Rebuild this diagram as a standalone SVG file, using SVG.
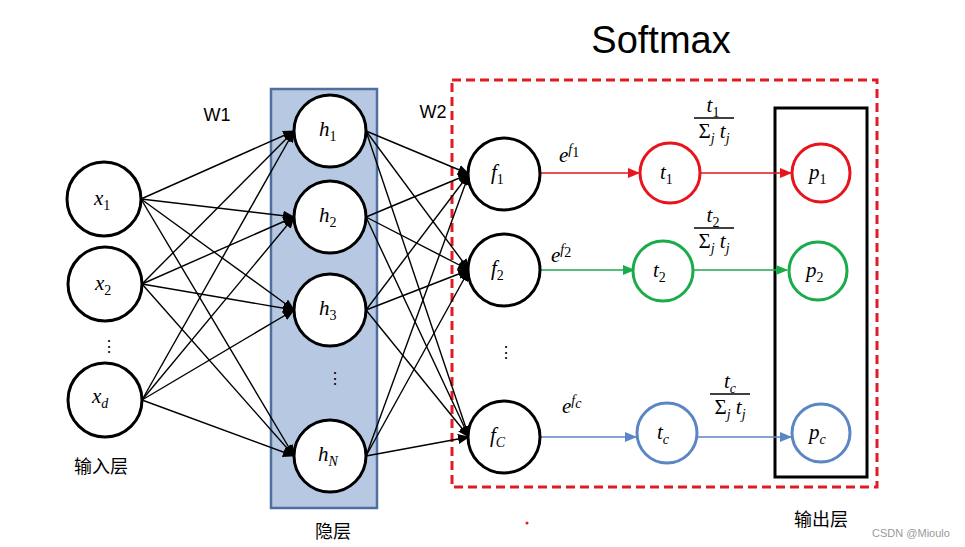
<svg xmlns="http://www.w3.org/2000/svg" width="965" height="547" viewBox="0 0 965 547">
<defs>
<marker id="ak" markerUnits="userSpaceOnUse" markerWidth="12" markerHeight="10" refX="11" refY="5" orient="auto"><path d="M0,0 L12,5 L0,10 Z" fill="#000"/></marker>
<marker id="ar" markerUnits="userSpaceOnUse" markerWidth="12" markerHeight="10" refX="11" refY="5" orient="auto"><path d="M0,0 L12,5 L0,10 Z" fill="#e8141c"/></marker>
<marker id="ag" markerUnits="userSpaceOnUse" markerWidth="12" markerHeight="10" refX="11" refY="5" orient="auto"><path d="M0,0 L12,5 L0,10 Z" fill="#1aab4a"/></marker>
<marker id="ab" markerUnits="userSpaceOnUse" markerWidth="12" markerHeight="10" refX="11" refY="5" orient="auto"><path d="M0,0 L12,5 L0,10 Z" fill="#5b86c4"/></marker>
</defs>
<style>
.n{fill:#fff;stroke:#000;stroke-width:3}
.nr{fill:#fff;stroke:#e8141c;stroke-width:3}
.ng{fill:#fff;stroke:#1aab4a;stroke-width:3}
.nb{fill:#fff;stroke:#5b86c4;stroke-width:3}
.m{font-family:"Liberation Serif","DejaVu Serif",serif;font-style:italic;font-size:21px;fill:#000}
.s{font-size:14px;font-style:normal}
.si{font-size:14px}
.w{font-family:"Liberation Sans",Arial,sans-serif;font-size:18px;fill:#000}
.cn{font-family:"Liberation Sans","Noto Sans CJK SC",sans-serif;font-size:18px;fill:#000}
.k{stroke:#000;stroke-width:1.4;fill:none;marker-end:url(#ak)}
.dots{font-family:"Liberation Sans",sans-serif;font-size:16px;fill:#000}
</style>
<rect width="965" height="547" fill="#fff"/>
<text x="661" y="53" text-anchor="middle" font-family="Liberation Sans,Arial,sans-serif" font-size="38" fill="#000">Softmax</text>
<g id="hidden-box"><rect x="271" y="89" width="106" height="419" fill="#b7c9e2" stroke="#4f6fa0" stroke-width="2.5"/></g>
<g id="softmax-box"><rect x="452" y="80" width="425" height="407" fill="none" stroke="#e01b22" stroke-width="3" stroke-dasharray="9,5"/></g>
<g id="output-box"><rect x="775" y="108" width="92" height="369" fill="none" stroke="#000" stroke-width="3"/></g>
<g id="connectors">
<line class="k" x1="141" y1="199" x2="294" y2="131"/>
<line class="k" x1="141" y1="199" x2="294" y2="217"/>
<line class="k" x1="141" y1="199" x2="294" y2="310"/>
<line class="k" x1="141" y1="199" x2="294" y2="456"/>
<line class="k" x1="142" y1="284" x2="294" y2="131"/>
<line class="k" x1="142" y1="284" x2="294" y2="217"/>
<line class="k" x1="142" y1="284" x2="294" y2="310"/>
<line class="k" x1="142" y1="284" x2="294" y2="456"/>
<line class="k" x1="142" y1="400" x2="294" y2="131"/>
<line class="k" x1="142" y1="400" x2="294" y2="217"/>
<line class="k" x1="142" y1="400" x2="294" y2="310"/>
<line class="k" x1="142" y1="400" x2="294" y2="456"/>
<line class="k" x1="366" y1="131" x2="469" y2="174"/>
<line class="k" x1="366" y1="131" x2="469" y2="270"/>
<line class="k" x1="366" y1="131" x2="469" y2="437"/>
<line class="k" x1="366" y1="217" x2="469" y2="174"/>
<line class="k" x1="366" y1="217" x2="469" y2="270"/>
<line class="k" x1="366" y1="217" x2="469" y2="437"/>
<line class="k" x1="366" y1="310" x2="469" y2="174"/>
<line class="k" x1="366" y1="310" x2="469" y2="270"/>
<line class="k" x1="366" y1="310" x2="469" y2="437"/>
<line class="k" x1="366" y1="456" x2="469" y2="174"/>
<line class="k" x1="366" y1="456" x2="469" y2="270"/>
<line class="k" x1="366" y1="456" x2="469" y2="437"/>
<line x1="540" y1="173" x2="639" y2="173" stroke="#e8141c" stroke-width="1.5" marker-end="url(#ar)"/>
<line x1="698" y1="173" x2="791" y2="173" stroke="#e8141c" stroke-width="1.5" marker-end="url(#ar)"/>
<line x1="540" y1="270" x2="634" y2="270" stroke="#1aab4a" stroke-width="1.5" marker-end="url(#ag)"/>
<line x1="690" y1="270" x2="787" y2="270" stroke="#1aab4a" stroke-width="1.5" marker-end="url(#ag)"/>
<line x1="540" y1="437" x2="636" y2="437" stroke="#5b86c4" stroke-width="1.5" marker-end="url(#ab)"/>
<line x1="697" y1="437" x2="791" y2="437" stroke="#5b86c4" stroke-width="1.5" marker-end="url(#ab)"/>
</g>
<g id="x1"><circle class="n" cx="104" cy="199" r="37"/><text class="m" x="94" y="205">x<tspan class="s" dy="5">1</tspan></text></g>
<g id="x2"><circle class="n" cx="105" cy="284" r="37"/><text class="m" x="95" y="290">x<tspan class="s" dy="5">2</tspan></text></g>
<g id="xd"><circle class="n" cx="105" cy="400" r="37"/><text class="m" x="92" y="403">x<tspan class="si" dy="5">d</tspan></text></g>
<text class="dots" x="109" y="352" text-anchor="middle">⋮</text>
<text class="cn" x="101" y="473" text-anchor="middle">输入层</text>
<text class="w" x="217" y="121" text-anchor="middle">W1</text>
<text class="w" x="433" y="118" text-anchor="middle">W2</text>
<g id="h1"><circle class="n" cx="330" cy="131" r="36"/><text class="m" x="319" y="136">h<tspan class="s" dy="5">1</tspan></text></g>
<g id="h2"><circle class="n" cx="330" cy="217" r="36"/><text class="m" x="319" y="222">h<tspan class="s" dy="5">2</tspan></text></g>
<g id="h3"><circle class="n" cx="330" cy="310" r="36"/><text class="m" x="319" y="315">h<tspan class="s" dy="5">3</tspan></text></g>
<g id="hN"><circle class="n" cx="330" cy="456" r="36"/><text class="m" x="318" y="461">h<tspan class="si" dy="5">N</tspan></text></g>
<text class="dots" x="335" y="384" text-anchor="middle">⋮</text>
<text class="cn" x="333" y="538" text-anchor="middle">隐层</text>
<g id="f1"><circle class="n" cx="504" cy="174" r="36"/><text class="m" x="491" y="179">f<tspan class="s" dy="5">1</tspan></text></g>
<g id="f2"><circle class="n" cx="504" cy="270" r="36"/><text class="m" x="491" y="275">f<tspan class="s" dy="5">2</tspan></text></g>
<g id="fC"><circle class="n" cx="504" cy="437" r="36"/><text class="m" x="490" y="442">f<tspan class="si" dy="5">C</tspan></text></g>
<text class="dots" x="506" y="358" text-anchor="middle">⋮</text>
<text class="m" x="559" y="162" font-size="19">e<tspan class="si" dy="-8">f</tspan><tspan class="s" font-size="10" dy="3">1</tspan></text>
<text class="m" x="551" y="262" font-size="19">e<tspan class="si" dy="-8">f</tspan><tspan class="s" font-size="10" dy="3">2</tspan></text>
<text class="m" x="562" y="413" font-size="19">e<tspan class="si" dy="-8">f</tspan><tspan class="si" font-size="10" dy="3">c</tspan></text>
<g id="t1"><circle class="nr" cx="670" cy="173" r="30"/><text class="m" x="660" y="179">t<tspan class="s" dy="5">1</tspan></text></g>
<g id="t2"><circle class="ng" cx="663" cy="271" r="30"/><text class="m" x="653" y="277">t<tspan class="s" dy="5">2</tspan></text></g>
<g id="tc"><circle class="nb" cx="667" cy="433" r="30"/><text class="m" x="657" y="439">t<tspan class="si" dy="5">c</tspan></text></g>
<g id="frac1"><text class="m" x="713" y="112" text-anchor="middle">t<tspan class="s" dy="5">1</tspan></text><line x1="694" y1="118" x2="734" y2="118" stroke="#000" stroke-width="1.3"/><text class="m" x="714" y="138" text-anchor="middle"><tspan font-style="normal">Σ</tspan><tspan class="si" dy="5">j</tspan><tspan dy="-5"> t</tspan><tspan class="si" dy="5">j</tspan></text></g>
<g id="frac2"><text class="m" x="713" y="222" text-anchor="middle">t<tspan class="s" dy="5">2</tspan></text><line x1="694" y1="228" x2="734" y2="228" stroke="#000" stroke-width="1.3"/><text class="m" x="714" y="248" text-anchor="middle"><tspan font-style="normal">Σ</tspan><tspan class="si" dy="5">j</tspan><tspan dy="-5"> t</tspan><tspan class="si" dy="5">j</tspan></text></g>
<g id="frac3"><text class="m" x="730" y="388" text-anchor="middle">t<tspan class="si" dy="5">c</tspan></text><line x1="710" y1="394" x2="750" y2="394" stroke="#000" stroke-width="1.3"/><text class="m" x="730" y="414" text-anchor="middle"><tspan font-style="normal">Σ</tspan><tspan class="si" dy="5">j</tspan><tspan dy="-5"> t</tspan><tspan class="si" dy="5">j</tspan></text></g>
<g id="p1"><circle class="nr" cx="821" cy="173" r="29"/><text class="m" x="809" y="179">p<tspan class="s" dy="5">1</tspan></text></g>
<g id="p2"><circle class="ng" cx="818" cy="271" r="29"/><text class="m" x="806" y="277">p<tspan class="s" dy="5">2</tspan></text></g>
<g id="pc"><circle class="nb" cx="821" cy="433" r="29"/><text class="m" x="809" y="439">p<tspan class="si" dy="5">c</tspan></text></g>
<text class="cn" x="821" y="526" text-anchor="middle">输出层</text>
<circle cx="527" cy="523" r="1.5" fill="#e01b22"/>
<text x="911" y="537" text-anchor="middle" font-family="Liberation Sans,Arial,sans-serif" font-size="11" fill="#999">CSDN @Mioulo</text>
</svg>
